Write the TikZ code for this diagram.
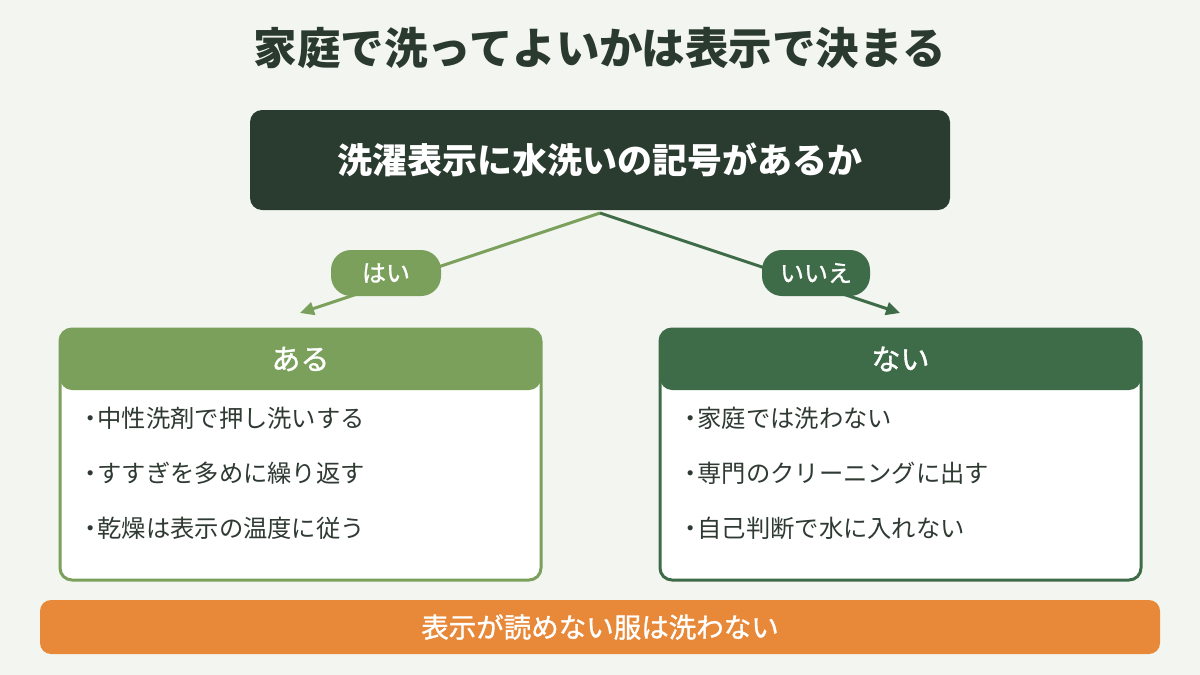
\documentclass[tikz,border=0pt]{standalone}
\usepackage{fontspec}
\setmainfont{Noto Sans CJK JP}
\newfontfamily\medfont[FakeBold=1.2]{Noto Sans CJK JP}
\usetikzlibrary{arrows.meta}
\definecolor{bgc}{HTML}{F3F6F0}
\definecolor{titlec}{HTML}{2B3A2F}
\definecolor{qc}{HTML}{2A3B30}
\definecolor{lgreen}{HTML}{7BA05B}
\definecolor{dgreen}{HTML}{3E6B48}
\definecolor{orangec}{HTML}{E8893A}
\definecolor{itemc}{HTML}{2F3A33}
\newcommand{\bul}{・\kern-5pt}
\tikzset{
  card/.style={draw=#1, line width=3pt, fill=white, rounded corners=12pt,
    minimum width=481pt, minimum height=251pt, inner sep=0pt,
    path picture={\fill[#1] (path picture bounding box.north west) rectangle ([yshift=-61pt]path picture bounding box.north east);}},
  hdr/.style={text=white, font=\medfont\fontsize{29}{33}\selectfont, inner sep=0pt},
  item/.style={text=itemc, font=\fontsize{24.3}{28}\selectfont, anchor=west, inner sep=0pt},
  pill/.style={fill=#1, text=white, rounded corners=20pt, minimum width=110pt, minimum height=46pt,
    inner sep=0pt, font=\medfont\fontsize{24}{28}\selectfont},
  link/.style={draw=#1, line width=3pt, -{Triangle[length=14pt,width=13pt]}},
}
\begin{document}
\begin{tikzpicture}[x=1pt,y=-1pt]
\fill[bgc] (0,0) rectangle (1200,675);
\useasboundingbox (0,0) rectangle (1200,675);
\node[text=titlec, font=\bfseries\fontsize{43.5}{48}\selectfont] (title) at (600,48) {家庭で洗ってよいかは表示で決まる};
\node[fill=qc, rounded corners=12pt, minimum width=700pt, minimum height=100pt, text=white,
  font=\bfseries\fontsize{35}{40}\selectfont] (q) at (600,160) {洗濯表示に水洗いの記号があるか};
\coordinate (apex) at (600,213);
\coordinate (ltip) at (300,313);
\coordinate (rtip) at (900,313);
\draw[link=lgreen] (apex) -- (ltip);
\draw[link=dgreen] (apex) -- (rtip);
\node[pill=lgreen] (yes) at (386,273) {はい};
\node[pill=dgreen, minimum width=108pt] (no) at (816,273) {いいえ};
% left card
\node[card=lgreen] (acard) at (300.5,454.5) {};
\node[hdr] (ahdr) at (300.5,359) {ある};
\node[item] (a1) at (78,418) {\bul 中性洗剤で押し洗いする};
\node[item] (a2) at (78,473) {\bul すすぎを多めに繰り返す};
\node[item] (a3) at (78,528) {\bul 乾燥は表示の温度に従う};
% right card
\node[card=dgreen] (ncard) at (900.5,454.5) {};
\node[hdr] (nhdr) at (900.5,359) {ない};
\node[item] (n1) at (678,418) {\bul 家庭では洗わない};
\node[item] (n2) at (678,473) {\bul 専門のクリーニングに出す};
\node[item] (n3) at (678,528) {\bul 自己判断で水に入れない};
% bottom bar
\node[fill=orangec, rounded corners=11pt, minimum width=1120pt, minimum height=54pt, text=white,
  inner sep=0pt, font=\medfont\fontsize{27.5}{31}\selectfont] (bar) at (600,627) {表示が読めない服は洗わない};
\end{tikzpicture}
\end{document}
